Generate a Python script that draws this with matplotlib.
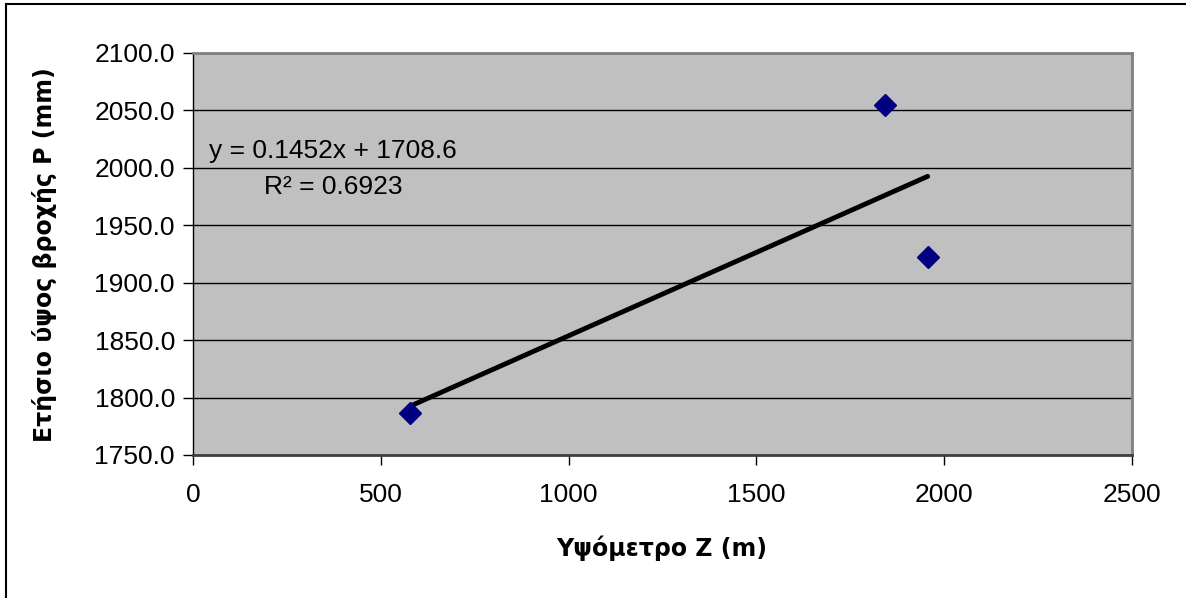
import matplotlib
matplotlib.use("Agg")
import matplotlib.pyplot as plt
from matplotlib.lines import Line2D
import numpy as np

# Data
altitude_m = [578, 1842, 1956]
rainfall_mm = [1786.7, 2054.6, 1922.0]
slope = 0.1452
intercept = 1708.6
r_squared = 0.6923
x_ticks = [0, 500, 1000, 1500, 2000, 2500]
y_ticks = [1750.0, 1800.0, 1850.0, 1900.0, 1950.0, 2000.0, 2050.0, 2100.0]

W, H = 1186, 598
fig = plt.figure(figsize=(W / 100, H / 100), dpi=100)
fig.patch.set_facecolor("white")

# outer chart border (left and top visible)
fig.add_artist(Line2D([6 / W, 6 / W], [0, 1 - 4 / H], transform=fig.transFigure, color="black", lw=1.5))
fig.add_artist(Line2D([6 / W, 1], [1 - 4 / H, 1 - 4 / H], transform=fig.transFigure, color="black", lw=1.5))

left, right, top, bottom = 193, 1132, 53, 455
ax = fig.add_axes([left / W, 1 - bottom / H, (right - left) / W, (bottom - top) / H])
ax.set_facecolor("#C0C0C0")
ax.set_xlim(0, 2500)
ax.set_ylim(1750, 2100)
ax.set_xticks(x_ticks)
ax.set_yticks(y_ticks)
ax.set_xticklabels([str(v) for v in x_ticks])
ax.set_yticklabels([f"{v:.1f}" for v in y_ticks])

for lab in ax.get_xticklabels() + ax.get_yticklabels():
    lab.set_fontfamily("Liberation Sans")
    lab.set_fontsize(19)
ax.tick_params(axis="both", direction="out", length=7, width=1, color="black")
ax.tick_params(axis="y", pad=6)
ax.tick_params(axis="x", pad=13)

ax.grid(axis="y", color="black", lw=1)
ax.set_axisbelow(True)
for s in ["top", "right"]:
    ax.spines[s].set_color("#808080")
    ax.spines[s].set_linewidth(2)
ax.spines["left"].set_color("black")
ax.spines["left"].set_linewidth(1)
ax.spines["bottom"].set_color("#404040")
ax.spines["bottom"].set_linewidth(2)

# trendline
xs = np.array([min(altitude_m), max(altitude_m)])
ax.plot(xs, slope * xs + intercept, color="black", lw=3.5, solid_capstyle="round", zorder=3)

# points
ax.plot(altitude_m, rainfall_mm, linestyle="none", marker="D", markersize=11,
        color="#000080", zorder=4)

# trendline label, placed in figure pixels
fig.text(333 / W, 1 - 169 / H, f"y = {slope}x + {intercept}\nR² = {r_squared}", ha="center", va="center",
         fontfamily="Liberation Sans", fontsize=19, linespacing=1.62, zorder=5)

fig.text(662 / W, 1 - 548 / H, "Υψόμετρο Z (m)", ha="center", va="center",
         fontfamily="DejaVu Sans", fontweight="bold", fontsize=17)
fig.text(45 / W, 1 - 255 / H, "Ετήσιο ύψος βροχής P (mm)", ha="center", va="center",
         rotation=90, fontfamily="DejaVu Sans", fontweight="bold", fontsize=17)

fig.savefig("out.png", dpi=100)
